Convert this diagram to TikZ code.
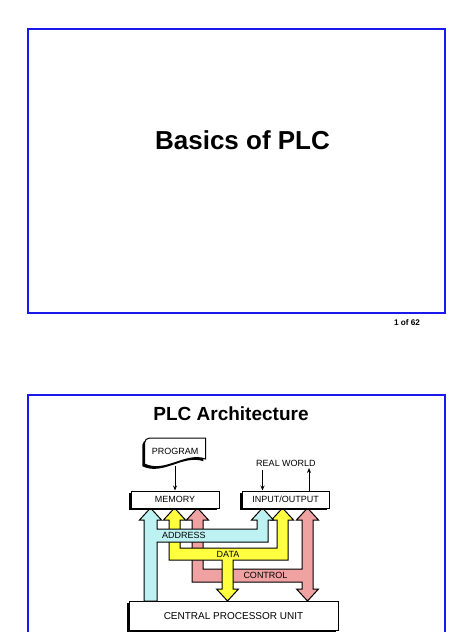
\documentclass[tikz,border=0pt]{standalone}
\usepackage{fontspec}
\setmainfont{Liberation Sans}
\usetikzlibrary{arrows.meta,shadows}
\definecolor{frameblue}{RGB}{25,25,235}
\definecolor{addrcol}{RGB}{190,242,242}
\definecolor{datacol}{RGB}{255,255,64}
\definecolor{ctrlcol}{RGB}{240,162,162}
\begin{document}
\begin{tikzpicture}[x=1pt,y=-1pt,
	slide/.style={draw=frameblue,line width=2pt},
	shade3d/.style={drop shadow={shadow xshift=-2.2pt,shadow yshift=-2.2pt,opacity=1,fill=black}},
	unit/.style={draw,fill=white,line width=1pt,inner sep=0pt,shade3d,
		font=\fontsize{9}{10}\selectfont,text height=6.4pt,text depth=0pt},
	bus/.style={draw,line width=1pt,line join=miter},
	lbl/.style={inner sep=0pt,font=\fontsize{9}{10}\selectfont,text height=6.4pt,text depth=0pt},
	sig/.style={-{Stealth[length=5pt,width=4pt]},line width=.8pt}]
\useasboundingbox (0,0) rectangle (474,632);
\clip (0,0) rectangle (474,632);
\fill[white] (0,0) rectangle (474,632);
\draw[slide] (28,29) rectangle (445,313);
\draw[slide] (28,395) rectangle (445,660);
\path
	(242.5,149) node [anchor=base] (title) {\fontsize{26}{30}\selectfont\bfseries Basics of PLC}
	(407,325) node [anchor=base] (page) {\fontsize{8.2}{9}\selectfont\bfseries 1 of 62}
	(231,420) node [anchor=base] (arch) {\fontsize{19}{22}\selectfont\bfseries PLC Architecture};
\draw[bus,fill=ctrlcol]
	(192,582) -- (192,520) -- (186.5,520) -- (197.5,508) -- (208.5,520) -- (203,520)
	-- (203,569) -- (302,569) -- (302,520) -- (296.5,520) -- (307.5,508) -- (318.5,520)
	-- (313,520) -- (313,589) -- (318.5,589) -- (307.5,601) -- (296.5,589) -- (302,589)
	-- (302,582) -- cycle;
\draw[bus,fill=datacol]
	(169,560) -- (169,520) -- (163.5,520) -- (174.5,508) -- (185.5,520) -- (180,520)
	-- (180,548) -- (277,548) -- (277,520) -- (271.5,520) -- (282.5,508) -- (293.5,520)
	-- (288,520) -- (288,560) -- (233,560) -- (233,589) -- (238.5,589) -- (227.5,601)
	-- (216.5,589) -- (222,589) -- (222,560) -- cycle;
\draw[bus,fill=addrcol]
	(144,601) -- (144,520) -- (139.5,520) -- (150.5,508) -- (161.5,520) -- (157,520)
	-- (157,529) -- (257,529) -- (257,520) -- (251.5,520) -- (262.5,508) -- (273.5,520)
	-- (268,520) -- (268,542) -- (157,542) -- (157,601) -- cycle;
\foreach \name/\x/\y in {ADDRESS/184/535.5,DATA/228/554,CONTROL/265.5/575.5}
	\node [lbl] (lbl\name) at (\x,\y) {\name};
\draw[fill=white,line width=1pt,shade3d]
	(205.5,459) -- (205.5,438) [rounded corners=5pt] -- (144.5,438) -- (144.5,450)
	[sharp corners] -- (144.5,464) .. controls (165,474) and (185,452) .. (205.5,459) -- cycle;
\node [lbl,minimum width=61pt,minimum height=28pt] (prog) at (175,451.5) {PROGRAM};
\node [unit,minimum width=88pt,minimum height=17pt] (mem) at (175,499.5) {MEMORY};
\node [unit,minimum width=87pt,minimum height=17pt] (io) at (285.5,499.5) {INPUT/OUTPUT};
\node [unit,minimum width=209pt,minimum height=29pt,font=\fontsize{10}{11}\selectfont,
	text height=7.2pt] (cpu) at (233.5,615.5) {CENTRAL PROCESSOR UNIT};
\node [lbl] (world) at (286,463) {REAL WORLD};
\coordinate (rwin) at (262.5,470);
\coordinate (rwout) at (309,468);
\draw[sig] (prog.south) -- (mem.north);
\draw[sig] (rwin) -- (rwin |- io.north);
\draw[sig] (rwout |- io.north) -- (rwout);
\end{tikzpicture}
\end{document}
